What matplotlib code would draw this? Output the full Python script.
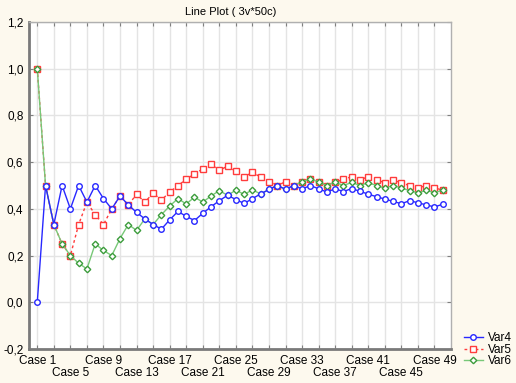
import numpy as np
import matplotlib.pyplot as plt
import matplotlib.transforms as mtransforms

cases = np.arange(1, 51)

var4 = [0.000, 0.500, 0.333, 0.500, 0.400, 0.500, 0.429, 0.500, 0.444, 0.400,
        0.455, 0.417, 0.385, 0.357, 0.333, 0.313, 0.353, 0.389, 0.368, 0.350,
        0.381, 0.409, 0.435, 0.458, 0.440, 0.423, 0.444, 0.464, 0.483, 0.500,
        0.484, 0.500, 0.485, 0.500, 0.486, 0.472, 0.486, 0.474, 0.487, 0.475,
        0.463, 0.452, 0.442, 0.432, 0.422, 0.435, 0.426, 0.417, 0.408, 0.420]

var5 = [1.000, 0.500, 0.333, 0.250, 0.200, 0.333, 0.429, 0.375, 0.333, 0.400,
        0.455, 0.417, 0.462, 0.429, 0.467, 0.438, 0.471, 0.500, 0.526, 0.550,
        0.571, 0.591, 0.565, 0.583, 0.560, 0.538, 0.556, 0.536, 0.517, 0.500,
        0.516, 0.500, 0.515, 0.529, 0.514, 0.500, 0.514, 0.526, 0.538, 0.525,
        0.537, 0.524, 0.512, 0.523, 0.511, 0.500, 0.489, 0.500, 0.490, 0.480]

var6 = [1.000, 0.500, 0.333, 0.250, 0.200, 0.167, 0.143, 0.250, 0.222, 0.200,
        0.273, 0.333, 0.308, 0.357, 0.333, 0.375, 0.412, 0.444, 0.421, 0.450,
        0.429, 0.455, 0.478, 0.458, 0.480, 0.462, 0.481, 0.464, 0.483, 0.500,
        0.484, 0.500, 0.515, 0.529, 0.514, 0.500, 0.514, 0.500, 0.513, 0.500,
        0.512, 0.500, 0.488, 0.500, 0.489, 0.478, 0.468, 0.479, 0.469, 0.480]

y_ticks = [-0.2, 0.0, 0.2, 0.4, 0.6, 0.8, 1.0, 1.2]
y_labels = ["-0,2", "0,0", "0,2", "0,4", "0,6", "0,8", "1,0", "1,2"]
x_label_cases = list(range(1, 50, 4))

plt.rcParams['font.family'] = ['Liberation Sans', 'DejaVu Sans']
plt.rcParams['font.size'] = 8

fig = plt.figure(figsize=(5.16, 3.83), dpi=100)
fig.patch.set_facecolor('#fdf9ee')
ax = fig.add_axes([29 / 516, 1 - 349 / 383, 422 / 516, 327 / 383])
ax.set_facecolor('white')

ax.plot(cases, var4, color='#2828ff', lw=1, marker='o', ms=4,
        mfc='white', mec='#2828ff', mew=1, label='Var4', zorder=3)
ax.plot(cases, var5, color='#ff3c3c', lw=1, ls=(0, (2, 2)), marker='s', ms=4.3,
        mfc='white', mec='#ff3c3c', mew=1, label='Var5', zorder=2)
ax.plot(cases, var6, color='#78c878', lw=1, marker='D', ms=3.3,
        mfc='white', mec='#3c9c3c', mew=1, label='Var6', zorder=2.5)

ax.set_xlim(0, 51)
ax.set_ylim(-0.2, 1.2)

# grid every other case; labels every 4th case, alternating two rows
ax.set_xticks(np.arange(1, 51, 2))
ax.set_xticklabels([])
ax.tick_params(axis='x', direction='in', length=3, color='#808080', top=True)
trans = mtransforms.blended_transform_factory(ax.transData, ax.transAxes)
for i, c in enumerate(x_label_cases):
    yy = -0.037 if i % 2 == 0 else -0.073
    ax.text(c, yy, "Case %d" % c, transform=trans, ha='center', va='center',
            fontsize=8.5)

ax.set_yticks(y_ticks)
ax.set_yticklabels(y_labels)
ax.tick_params(axis='y', direction='in', length=3, color='#808080',
               right=True, pad=4, labelsize=8.5)
ax.grid(True, color='#e4e4e4', lw=1)
ax.set_axisbelow(True)

for s in ['left', 'bottom']:
    ax.spines[s].set_color('#7a7a7a')
    ax.spines[s].set_linewidth(2)
for s in ['top', 'right']:
    ax.spines[s].set_color('#b0b0b0')
    ax.spines[s].set_linewidth(1)

fig.text(231 / 516, 1 - 12 / 383, "Line Plot ( 3v*50c)", ha='center',
         va='center', fontsize=8)

ax.legend(loc='lower left', bbox_to_anchor=(1.03, -0.056), frameon=False,
          fontsize=8.5, handlelength=1.6, handletextpad=0.45, labelspacing=-0.05,
          borderaxespad=0, borderpad=0)

fig.savefig('out.png', dpi=100, facecolor=fig.get_facecolor())
